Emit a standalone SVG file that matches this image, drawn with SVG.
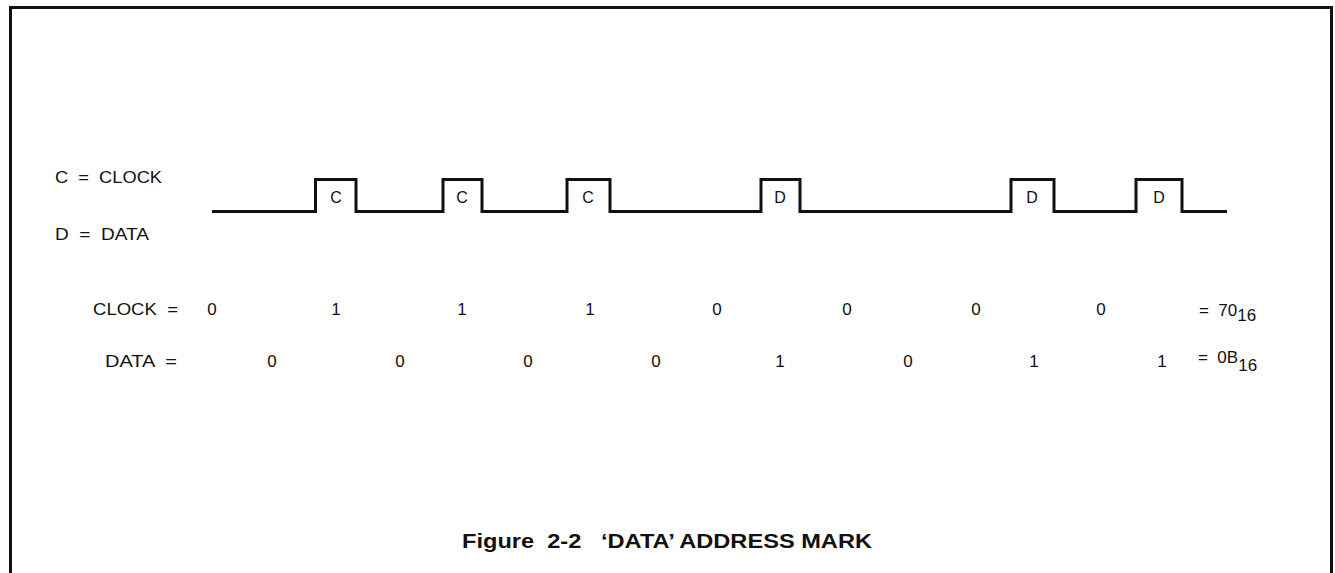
<svg xmlns="http://www.w3.org/2000/svg" width="1335" height="573" viewBox="0 0 1335 573">
<style>
text{font-family:"Liberation Sans",Arial,sans-serif;fill:#111}
.t{font-size:17px}
.p{font-size:16px;text-anchor:middle}
.v{font-size:17px;text-anchor:middle}
.cap{font-size:21px;font-weight:bold}
.sub{font-size:17px}
.w{fill:none;stroke:#111;stroke-width:3;stroke-linejoin:miter}
.b{fill:none;stroke:#111;stroke-width:3}
</style>
<g id="frame">
<path class="b" d="M10.5,573 V7.5 H1331.5 V573"/>
</g>
<g id="legend">
<text class="t" x="55" y="183" xml:space="preserve" textLength="107" lengthAdjust="spacingAndGlyphs">C  =  CLOCK</text>
<text class="t" x="55" y="240" xml:space="preserve" textLength="94" lengthAdjust="spacingAndGlyphs">D  =  DATA</text>
</g>
<g id="connectors">
<path class="w" d="M212,211.5 H315.5 V179.5 H356 V211.5 H443 V179.5 H482 V211.5 H567 V179.5 H610 V211.5 H761 V179.5 H800 V211.5 H1011 V179.5 H1054 V211.5 H1136 V179.5 H1182 V211.5 H1227"/>
</g>
<g id="pulse-labels">
<text class="p" x="336" y="203">C</text>
<text class="p" x="462" y="203">C</text>
<text class="p" x="588" y="203">C</text>
<text class="p" x="780" y="203">D</text>
<text class="p" x="1032" y="203">D</text>
<text class="p" x="1159" y="203">D</text>
</g>
<g id="clock-row">
<text class="t" x="93" y="315" xml:space="preserve" textLength="85" lengthAdjust="spacingAndGlyphs">CLOCK  =</text>
<text class="v" x="212" y="315">0</text>
<text class="v" x="336" y="315">1</text>
<text class="v" x="462" y="315">1</text>
<text class="v" x="590" y="315">1</text>
<text class="v" x="717" y="315">0</text>
<text class="v" x="847" y="315">0</text>
<text class="v" x="976" y="315">0</text>
<text class="v" x="1101" y="315">0</text>
<text class="t" x="1199" y="316" xml:space="preserve">=  70<tspan class="sub" dy="5">16</tspan></text>
</g>
<g id="data-row">
<text class="t" x="105" y="367" xml:space="preserve" textLength="72" lengthAdjust="spacingAndGlyphs">DATA  =</text>
<text class="v" x="272" y="367">0</text>
<text class="v" x="400" y="367">0</text>
<text class="v" x="528" y="367">0</text>
<text class="v" x="656" y="367">0</text>
<text class="v" x="780" y="367">1</text>
<text class="v" x="908" y="367">0</text>
<text class="v" x="1034" y="367">1</text>
<text class="v" x="1162" y="367">1</text>
<text class="t" x="1198" y="363" xml:space="preserve">=  0B<tspan class="sub" dy="8">16</tspan></text>
</g>
<g id="caption">
<text class="cap" x="462" y="548" xml:space="preserve" textLength="410" lengthAdjust="spacingAndGlyphs">Figure  2-2   ‘DATA’ ADDRESS MARK</text>
</g>
</svg>
